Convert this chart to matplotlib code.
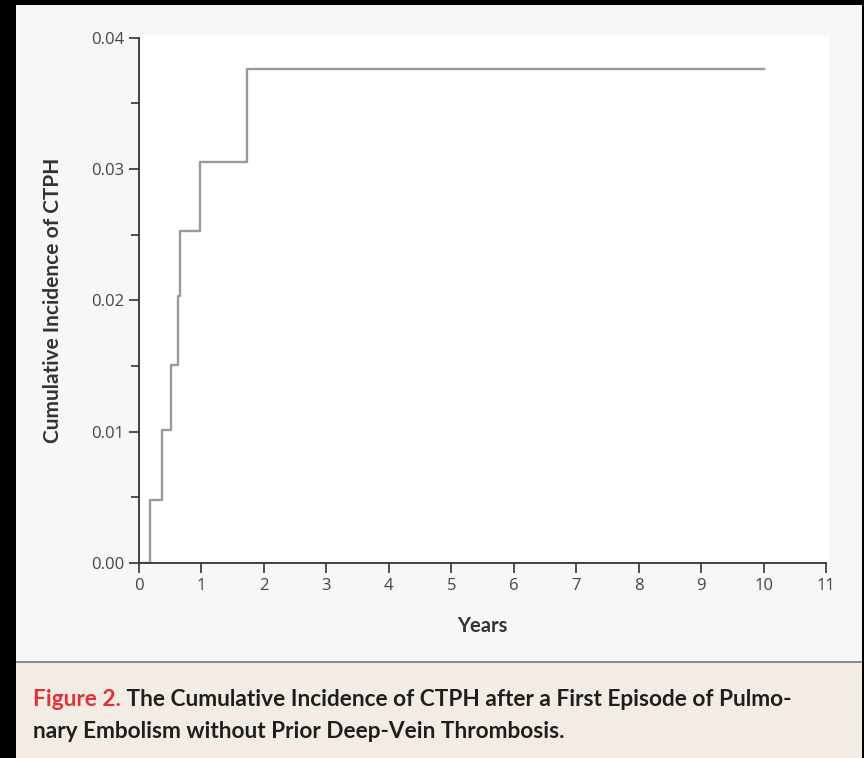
import matplotlib
matplotlib.use("Agg")
import matplotlib.pyplot as plt
from matplotlib.patches import Rectangle
from matplotlib.ticker import MultipleLocator

# step curve
years = [0.0, 0.18, 0.37, 0.51, 0.63, 0.66, 0.97, 1.73, 10.0]
cum_incidence = [0.0, 0.0048, 0.0101, 0.0151, 0.0203, 0.0253, 0.0305, 0.0376, 0.0376]

x_ticks = list(range(0, 12))
y_ticks = [0.00, 0.01, 0.02, 0.03, 0.04]

W, H = 864, 758
fig = plt.figure(figsize=(W / 100, H / 100), dpi=100)
fig.patch.set_facecolor("#f7f7f7")

def px_rect(x0, y0, x1, y1, **kw):
    # rectangle in pixel coords (origin top-left), kept behind the axes
    fig.patches.append(Rectangle((x0 / W, 1 - y1 / H), (x1 - x0) / W, (y1 - y0) / H,
                                 transform=fig.transFigure, zorder=-5, **kw))

# borders and caption panel
px_rect(0, 0, 16, H, facecolor="black", edgecolor="none")
px_rect(0, 0, W, 5, facecolor="black", edgecolor="none")
px_rect(862, 0, W, H, facecolor="black", edgecolor="none")
px_rect(16, 662, 862, H, facecolor="#f3ece4", edgecolor="none")
px_rect(16, 661, 862, 663, facecolor="#8a8a8a", edgecolor="none")
# white plotting panel (a bit larger than axes)
px_rect(139, 35, 829, 563, facecolor="white", edgecolor="none")

ax = fig.add_axes([139 / W, 1 - 563 / H, (826 - 139) / W, (563 - 37.5) / H])
ax.patch.set_alpha(0)

ax.step(years, cum_incidence, where="post", color="#9a9a9a", lw=1.7)

ax.set_xlim(0, 11)
ax.set_ylim(0, 0.04)
ax.set_xticks(x_ticks)
ax.set_yticks(y_ticks)
ax.set_yticklabels([f"{v:.2f}" for v in y_ticks])
ax.yaxis.set_minor_locator(MultipleLocator(0.005))

for s in ["top", "right"]:
    ax.spines[s].set_visible(False)
for s in ["left", "bottom"]:
    ax.spines[s].set_color("#333333")
    ax.spines[s].set_linewidth(1.3)

ax.tick_params(axis="both", which="major", direction="out", length=7, width=1.2,
               color="#333333", labelcolor="#444444", labelsize=12)
ax.tick_params(axis="y", which="minor", direction="out", length=6, width=1.2, color="#333333")
for lab in ax.get_xticklabels() + ax.get_yticklabels():
    lab.set_family("Open Sans")

ax.set_xlabel("Years", family="Lato", fontweight="bold", fontsize=14.5, color="#333333", labelpad=16)
ax.set_ylabel("Cumulative Incidence of CTPH", family="Lato", fontweight="bold", fontsize=15,
              color="#333333", labelpad=20)

# caption
cap_kw = dict(family="Lato", fontweight="bold", fontsize=16.3)
t1 = fig.text(33 / W, 1 - 706 / H, "Figure 2.", color="#e5303b", va="baseline", **cap_kw)
fig.canvas.draw()
bb = t1.get_window_extent()
fig.text(bb.x1 / W, 1 - 706 / H, " The Cumulative Incidence of CTPH after a First Episode of Pulmo-",
         color="#1e1e1e", va="baseline", **cap_kw)
fig.text(33 / W, 1 - 738 / H, "nary Embolism without Prior Deep-Vein Thrombosis.",
         color="#1e1e1e", va="baseline", **cap_kw)

fig.savefig("out.png", dpi=100, facecolor=fig.get_facecolor())
